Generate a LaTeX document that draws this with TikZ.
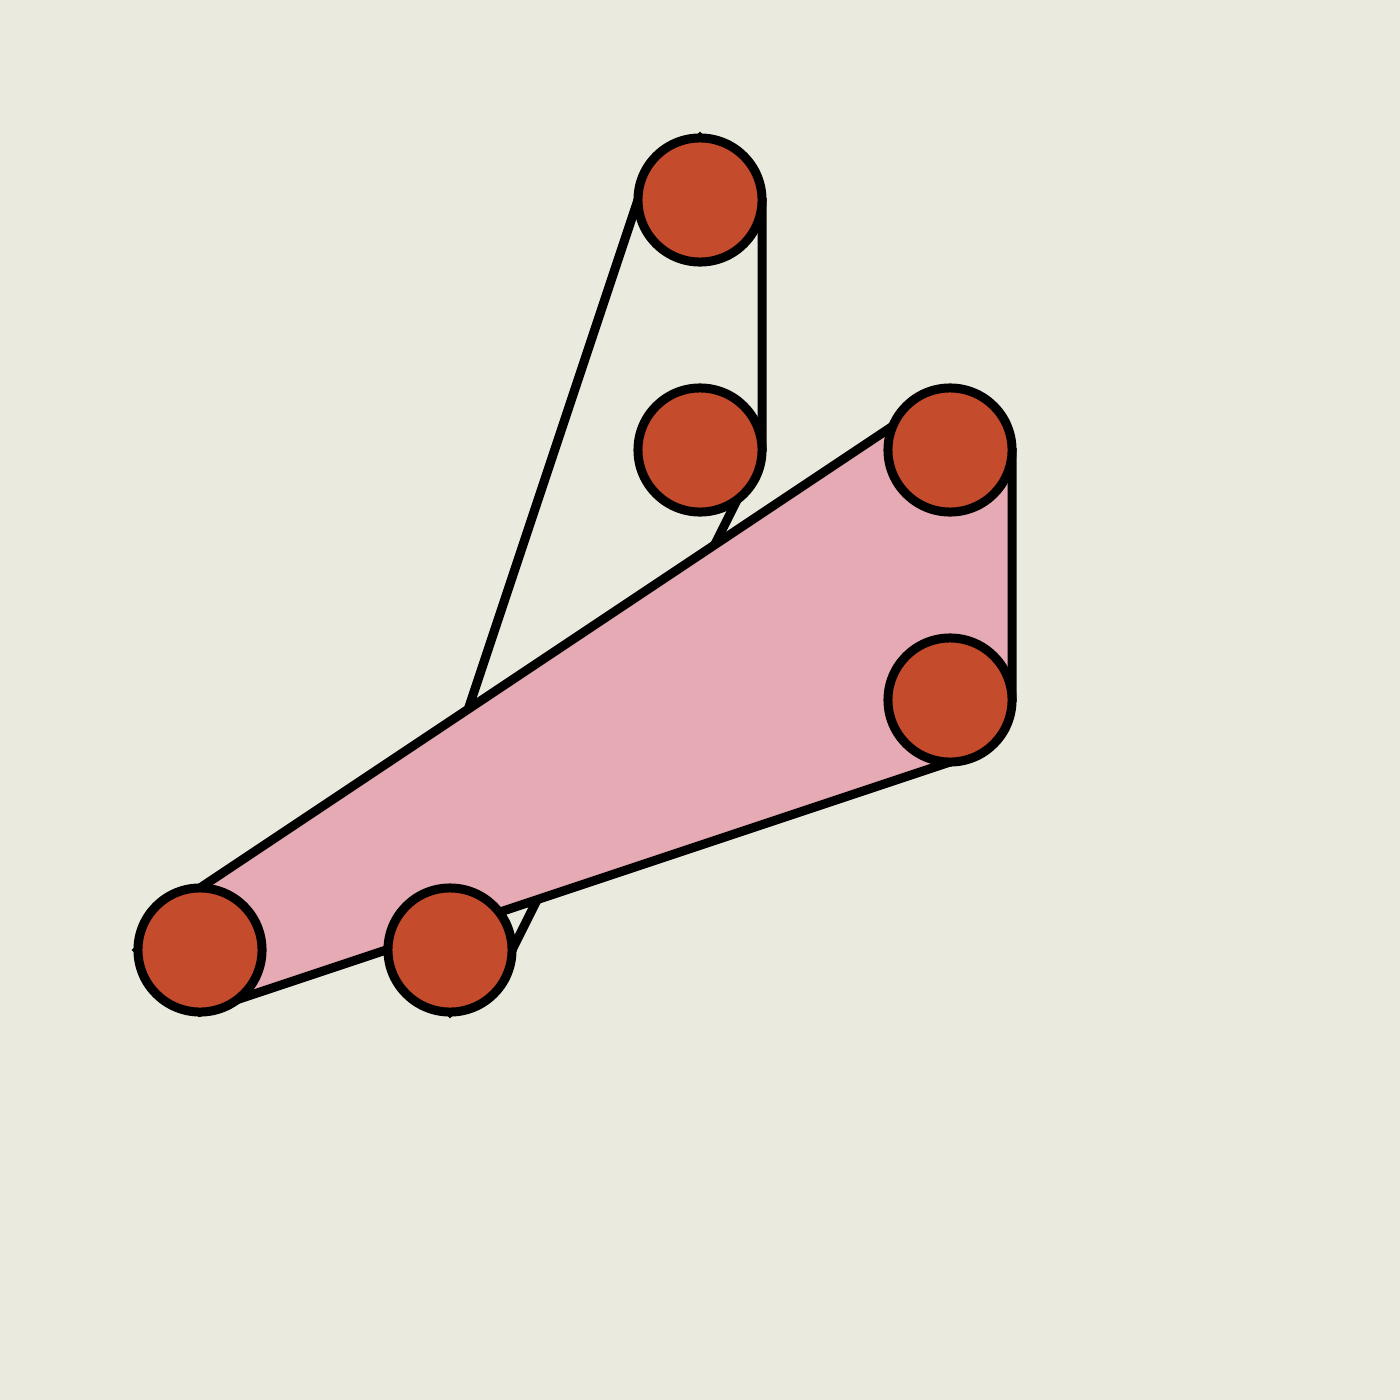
\documentclass[tikz,border=0pt]{standalone}
\usetikzlibrary{backgrounds}
\definecolor{bgc}{RGB}{234,234,223}
\definecolor{dotc}{RGB}{196,75,44}
\definecolor{pinkc}{RGB}{229,170,180}
\begin{document}
\begin{tikzpicture}[x=0.01cm,y=-0.01cm,
  dot/.style={circle,draw=black,fill=dotc,line width=0.09cm,minimum size=1.24cm,inner sep=0pt,outer sep=0pt},
  hull/.style={draw=black,line width=0.09cm,line join=miter}]
\useasboundingbox (0,0) rectangle (1400,1400);
\node[dot] (t1) at (700,200) {};
\node[dot] (t2) at (700,450) {};
\node[dot] (r1) at (950,450) {};
\node[dot] (r2) at (950,700) {};
\node[dot] (b1) at (200,950) {};
\node[dot] (b2) at (450,950) {};
\begin{scope}[on background layer]
  \fill[bgc] (0,0) rectangle (1400,1400);
  \path[hull,fill=bgc] (t1.north) -- (t1.east) -- (t2.east) -- (b2.east) -- (b2.south) -- (b2.west) -- (t1.west) -- cycle;
  \path[hull,fill=pinkc] (r1.north) -- (r1.east) -- (r2.east) -- (r2.south) -- (b1.south) -- (b1.west) -- (b1.north) -- (r1.north);
\end{scope}
\end{tikzpicture}
\end{document}
